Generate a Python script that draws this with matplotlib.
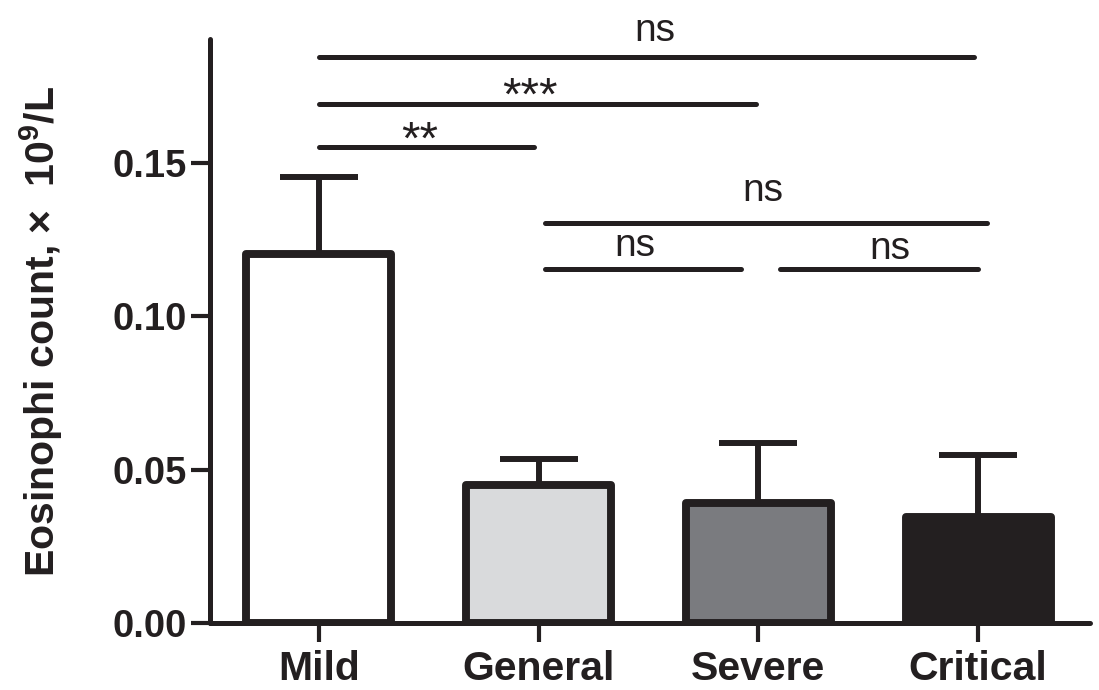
import matplotlib
matplotlib.use("Agg")
import matplotlib.pyplot as plt
import numpy as np

plt.rcParams['font.family'] = ['Liberation Sans', 'DejaVu Sans']
plt.rcParams['mathtext.fontset'] = 'custom'
plt.rcParams['mathtext.rm'] = 'Liberation Sans:bold'
plt.rcParams['mathtext.bf'] = 'Liberation Sans:bold'
plt.rcParams['mathtext.default'] = 'bf'

categories = ["Mild", "General", "Severe", "Critical"]
means = [0.1203, 0.0451, 0.0392, 0.0346]
sem = [0.0251, 0.0085, 0.0196, 0.0203]
fill_colors = ["#ffffff", "#d9dadc", "#7a7b7f", "#231f20"]
yticks = [0.00, 0.05, 0.10, 0.15]
ytick_labels = ["0.00", "0.05", "0.10", "0.15"]

# significance brackets
sig_x0 = [0.0, 0.0, 0.0, 1.03, 1.03, 2.10]
sig_x1 = [2.98, 1.99, 0.98, 3.04, 1.92, 3.00]
sig_y = [0.1846, 0.1693, 0.1552, 0.1304, 0.1154, 0.1154]
sig_labels = ["ns", "***", "**", "ns", "ns", "ns"]
sig_tx = [1.53, 0.96, 0.46, 2.02, 1.44, 2.60]
sig_ty = [0.1900, 0.1675, 0.1530, 0.1376, 0.1196, 0.1188]

ink = "#231f20"
dpi = 100
fig = plt.figure(figsize=(10.99, 6.90), dpi=dpi)
ax = fig.add_axes([0.191, 0.097, 0.801, 0.8464])

x = np.arange(len(categories))
ax.errorbar(x, means, yerr=[np.zeros(len(sem)), sem], fmt='none', ecolor=ink,
            elinewidth=4.3, capsize=28, capthick=4.3, zorder=1)
ax.bar(x, means, width=0.66, color=fill_colors, edgecolor=ink, linewidth=5.7,
       zorder=2, joinstyle='round')

for x0, x1, yl, lab, tx, ty in zip(sig_x0, sig_x1, sig_y, sig_labels, sig_tx, sig_ty):
    ax.plot([x0, x1], [yl, yl], color=ink, lw=3.6, solid_capstyle='round',
            clip_on=False, zorder=3)
    ax.text(tx, ty, lab, ha='center', va='baseline',
            fontsize=28 if lab == 'ns' else 34, color=ink, clip_on=False)

ax.set_xlim(-0.495, 3.51)
ax.set_ylim(0, 0.1905)
ax.set_yticks(yticks)
ax.set_yticklabels(ytick_labels)
ax.set_xticks(x)
ax.set_xticklabels(categories)
for lab in ax.get_yticklabels():
    lab.set_fontsize(27.5)
    lab.set_fontweight('bold')
    lab.set_color(ink)
for lab in ax.get_xticklabels():
    lab.set_fontsize(29.5)
    lab.set_fontweight('bold')
    lab.set_color(ink)

ax.spines['top'].set_visible(False)
ax.spines['right'].set_visible(False)
for s in ['left', 'bottom']:
    ax.spines[s].set_linewidth(3.6)
    ax.spines[s].set_color(ink)
    ax.spines[s].set_capstyle('round')
ax.tick_params(axis='both', direction='out', length=13.5, width=3, color=ink)
ax.tick_params(axis='x', pad=6)
ax.tick_params(axis='y', pad=3)

ax.set_ylabel("Eosinophi count, ×  10$^{9}$/L", fontsize=29.5, fontweight='bold',
              color=ink, labelpad=34)

fig.savefig("out.png", dpi=dpi)
